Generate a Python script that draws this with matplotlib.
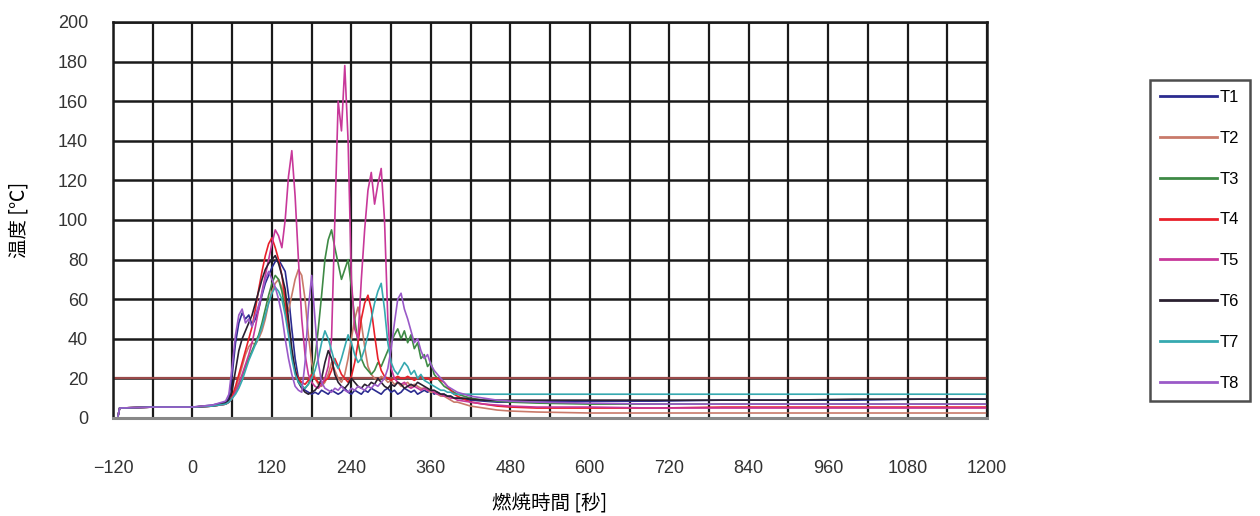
import matplotlib
matplotlib.use("Agg")
from matplotlib import pyplot as plt
from matplotlib.ticker import MultipleLocator

plt.rcParams['font.family'] = ['Liberation Sans', 'Noto Sans CJK JP', 'DejaVu Sans']

# time axis [s]
t_sec = ([-113, -110, -60, 0, 30, 50]
         + [55, 60, 65, 70, 75, 80, 85, 90, 95, 100]
         + [105, 110, 115, 120, 125, 130, 135, 140, 145, 150]
         + [155, 160, 165, 170, 175, 180, 185, 190, 195, 200]
         + [205, 210, 215, 220, 225, 230, 235, 240, 245, 250]
         + [255, 260, 265, 270, 275, 280, 285, 290, 295, 300]
         + [305, 310, 315, 320, 325, 330, 335, 340, 345, 350]
         + [355, 360, 365, 370, 375, 380, 385, 390, 395, 400]
         + [410, 420, 440, 460, 480, 520, 600, 700, 800, 900, 1000, 1100, 1200])

T1 = ([0, 5, 5.5, 5.5, 6.5, 8]
      + [10, 22, 38, 48, 53, 50, 52, 47, 50, 55]
      + [62, 68, 72, 76, 79, 80, 77, 74, 62, 45]
      + [30, 20, 16, 14, 13, 12, 13, 12, 14, 13]
      + [12, 14, 13, 12, 13, 15, 13, 12, 14, 13]
      + [12, 14, 13, 15, 14, 13, 12, 14, 15, 13]
      + [14, 12, 13, 15, 14, 13, 14, 12, 13, 14]
      + [13, 14, 12, 13, 12, 12, 11, 11, 10, 10]
      + [9.5, 9, 8.5, 8, 8, 8, 8.5, 8.5, 9, 9, 9, 9.5, 9.5])

T2 = ([0, 5, 5.5, 5.5, 6, 7]
      + [8, 10, 14, 20, 26, 32, 36, 38, 37, 40]
      + [44, 50, 58, 64, 68, 70, 66, 60, 54, 62]
      + [70, 75, 72, 60, 42, 28, 20, 17, 16, 18]
      + [22, 28, 24, 20, 18, 22, 30, 40, 50, 56]
      + [48, 36, 26, 22, 20, 19, 21, 20, 18, 19]
      + [17, 18, 16, 17, 18, 16, 17, 16, 15, 15]
      + [14, 13, 13, 12, 11, 11, 10, 9, 8, 8]
      + [7, 6, 5, 4, 3.5, 3, 2.5, 2.5, 2.5, 2.5, 2.5, 2.5, 2.5])

T3 = ([0, 5, 5.5, 5.5, 6, 7]
      + [8, 10, 13, 17, 21, 26, 30, 34, 38, 42]
      + [48, 55, 62, 68, 72, 70, 64, 55, 44, 32]
      + [24, 19, 16, 15, 17, 22, 30, 45, 62, 80]
      + [90, 95, 86, 78, 70, 75, 80, 66, 50, 38]
      + [30, 26, 24, 22, 24, 28, 26, 30, 34, 38]
      + [42, 45, 40, 44, 38, 42, 35, 38, 30, 32]
      + [26, 28, 22, 20, 18, 16, 15, 14, 13, 12]
      + [11, 10, 9, 8.5, 8, 7.5, 7, 7, 7, 7, 7, 7, 7])

T4 = ([0, 5, 5.5, 5.5, 6, 7]
      + [8, 11, 16, 22, 28, 34, 40, 46, 55, 65]
      + [74, 82, 88, 91, 86, 80, 72, 60, 45, 32]
      + [24, 20, 18, 17, 19, 22, 20, 18, 17, 19]
      + [20, 24, 30, 26, 22, 20, 18, 21, 28, 38]
      + [50, 58, 62, 55, 42, 30, 24, 21, 20, 19]
      + [20, 21, 20, 20, 21, 20, 19, 20, 21, 20]
      + [20, 19, 20, 20, 19, 18, 16, 14, 12, 11]
      + [9.5, 8, 7, 6, 5.5, 5, 5, 5, 5.5, 5.5, 5.5, 5.5, 5.5])

T5 = ([0, 5, 5.5, 5.5, 6, 7]
      + [8, 10, 13, 17, 22, 27, 32, 38, 46, 55]
      + [64, 72, 80, 88, 95, 92, 86, 100, 122, 135]
      + [112, 80, 50, 32, 22, 18, 16, 15, 17, 20]
      + [26, 40, 100, 160, 145, 178, 140, 70, 45, 40]
      + [70, 95, 115, 124, 108, 118, 126, 100, 50, 25]
      + [20, 18, 17, 18, 16, 15, 16, 15, 14, 15]
      + [14, 14, 13, 12, 12, 11, 11, 10, 10, 9]
      + [8.5, 8, 7, 6.5, 6, 5.5, 5.5, 5, 5, 5, 5, 5, 5])

T6 = ([0, 5, 5.5, 5.5, 6, 7.5]
      + [9, 14, 24, 34, 40, 44, 48, 52, 58, 64]
      + [70, 75, 78, 80, 82, 78, 72, 65, 50, 35]
      + [24, 18, 15, 13, 12, 13, 14, 16, 20, 28]
      + [34, 30, 22, 18, 16, 15, 17, 20, 18, 16]
      + [15, 17, 16, 18, 17, 20, 18, 16, 15, 17]
      + [16, 18, 17, 15, 16, 17, 16, 18, 17, 16]
      + [15, 14, 14, 13, 12, 12, 11, 11, 10, 10]
      + [10, 9.5, 9, 9, 9, 9, 9, 9, 9, 9, 9.5, 9.5, 9.5])

T7 = ([0, 5, 5.5, 5.5, 6, 7]
      + [8, 10, 12, 15, 19, 24, 29, 33, 37, 41]
      + [46, 52, 58, 63, 66, 64, 60, 52, 42, 30]
      + [22, 18, 16, 15, 17, 20, 24, 30, 38, 44]
      + [40, 34, 28, 25, 30, 36, 42, 38, 32, 28]
      + [30, 35, 42, 50, 58, 64, 68, 55, 38, 28]
      + [24, 22, 25, 28, 26, 22, 24, 20, 22, 19]
      + [18, 17, 16, 15, 14, 14, 13, 13, 12, 12]
      + [12, 12, 12, 12, 12, 12, 12, 12, 12, 12, 12, 12, 12])

T8 = ([0, 5, 5.5, 5.5, 6.5, 8.5]
      + [12, 26, 42, 52, 55, 48, 50, 46, 52, 57]
      + [63, 70, 74, 70, 66, 60, 52, 40, 30, 22]
      + [16, 14, 13, 28, 55, 72, 50, 28, 18, 15]
      + [14, 13, 15, 14, 16, 14, 13, 15, 14, 16]
      + [15, 14, 16, 15, 17, 16, 18, 20, 25, 35]
      + [48, 60, 63, 55, 50, 44, 38, 40, 34, 30]
      + [32, 27, 24, 22, 20, 18, 16, 15, 14, 13]
      + [12, 11, 10, 9, 8.5, 8, 7.5, 7, 7, 7, 7, 7, 7])

series = {'T1': T1, 'T2': T2, 'T3': T3, 'T4': T4,
          'T5': T5, 'T6': T6, 'T7': T7, 'T8': T8}
colors = {'T1': '#2b2b8f', 'T2': '#c97a6a', 'T3': '#3e8a45', 'T4': '#e8202a',
          'T5': '#c8389a', 'T6': '#2a2030', 'T7': '#36a9b0', 'T8': '#9a5ac8'}

fig = plt.figure(figsize=(12.6, 5.16), dpi=100)
ax = fig.add_axes([0.0897, 0.19, 0.6937, 0.7674])

for name, vals in series.items():
    ax.plot(t_sec, vals, color=colors[name], lw=1.2, label=name)

ax.set_xlim(-120, 1200)
ax.set_ylim(0, 200)
ax.xaxis.set_major_locator(MultipleLocator(120))
ax.xaxis.set_minor_locator(MultipleLocator(60))
ax.yaxis.set_major_locator(MultipleLocator(20))
ax.grid(True, which='both', axis='x', color='#1a1a1a', lw=1.6)
ax.grid(True, which='major', axis='y', color='#1a1a1a', lw=1.8)
ax.set_axisbelow(True)
ax.axhline(20, color='#9a4a4a', lw=1.6, zorder=0.6)
ax.tick_params(which='both', length=0, labelsize=13, colors='#333333')
ax.tick_params(axis='y', pad=18)
ax.tick_params(axis='x', pad=30)
for s in ['left', 'top', 'right']:
    ax.spines[s].set_color('#1a1a1a')
    ax.spines[s].set_linewidth(1.8)
ax.spines['bottom'].set_color('#888888')
ax.spines['bottom'].set_linewidth(2.2)

ax.set_xlabel('燃焼時間 [秒]', fontsize=14, family=['Noto Sans CJK JP'], labelpad=12)
ax.set_ylabel('温度 [℃]', fontsize=14, family=['Noto Sans CJK JP', 'DejaVu Sans'], labelpad=20)

leg = ax.legend(loc='upper left', bbox_to_anchor=(0.9127, 0.845), bbox_transform=fig.transFigure,
                frameon=True, fancybox=False, fontsize=12, handlelength=3.4,
                handletextpad=0.2, labelspacing=1.55, borderpad=0.6, borderaxespad=0)
leg.get_frame().set_edgecolor('#222222')
leg.get_frame().set_linewidth(1.8)
for h in leg.get_lines():
    h.set_linewidth(2.0)

fig.savefig('out.png', dpi=100)
